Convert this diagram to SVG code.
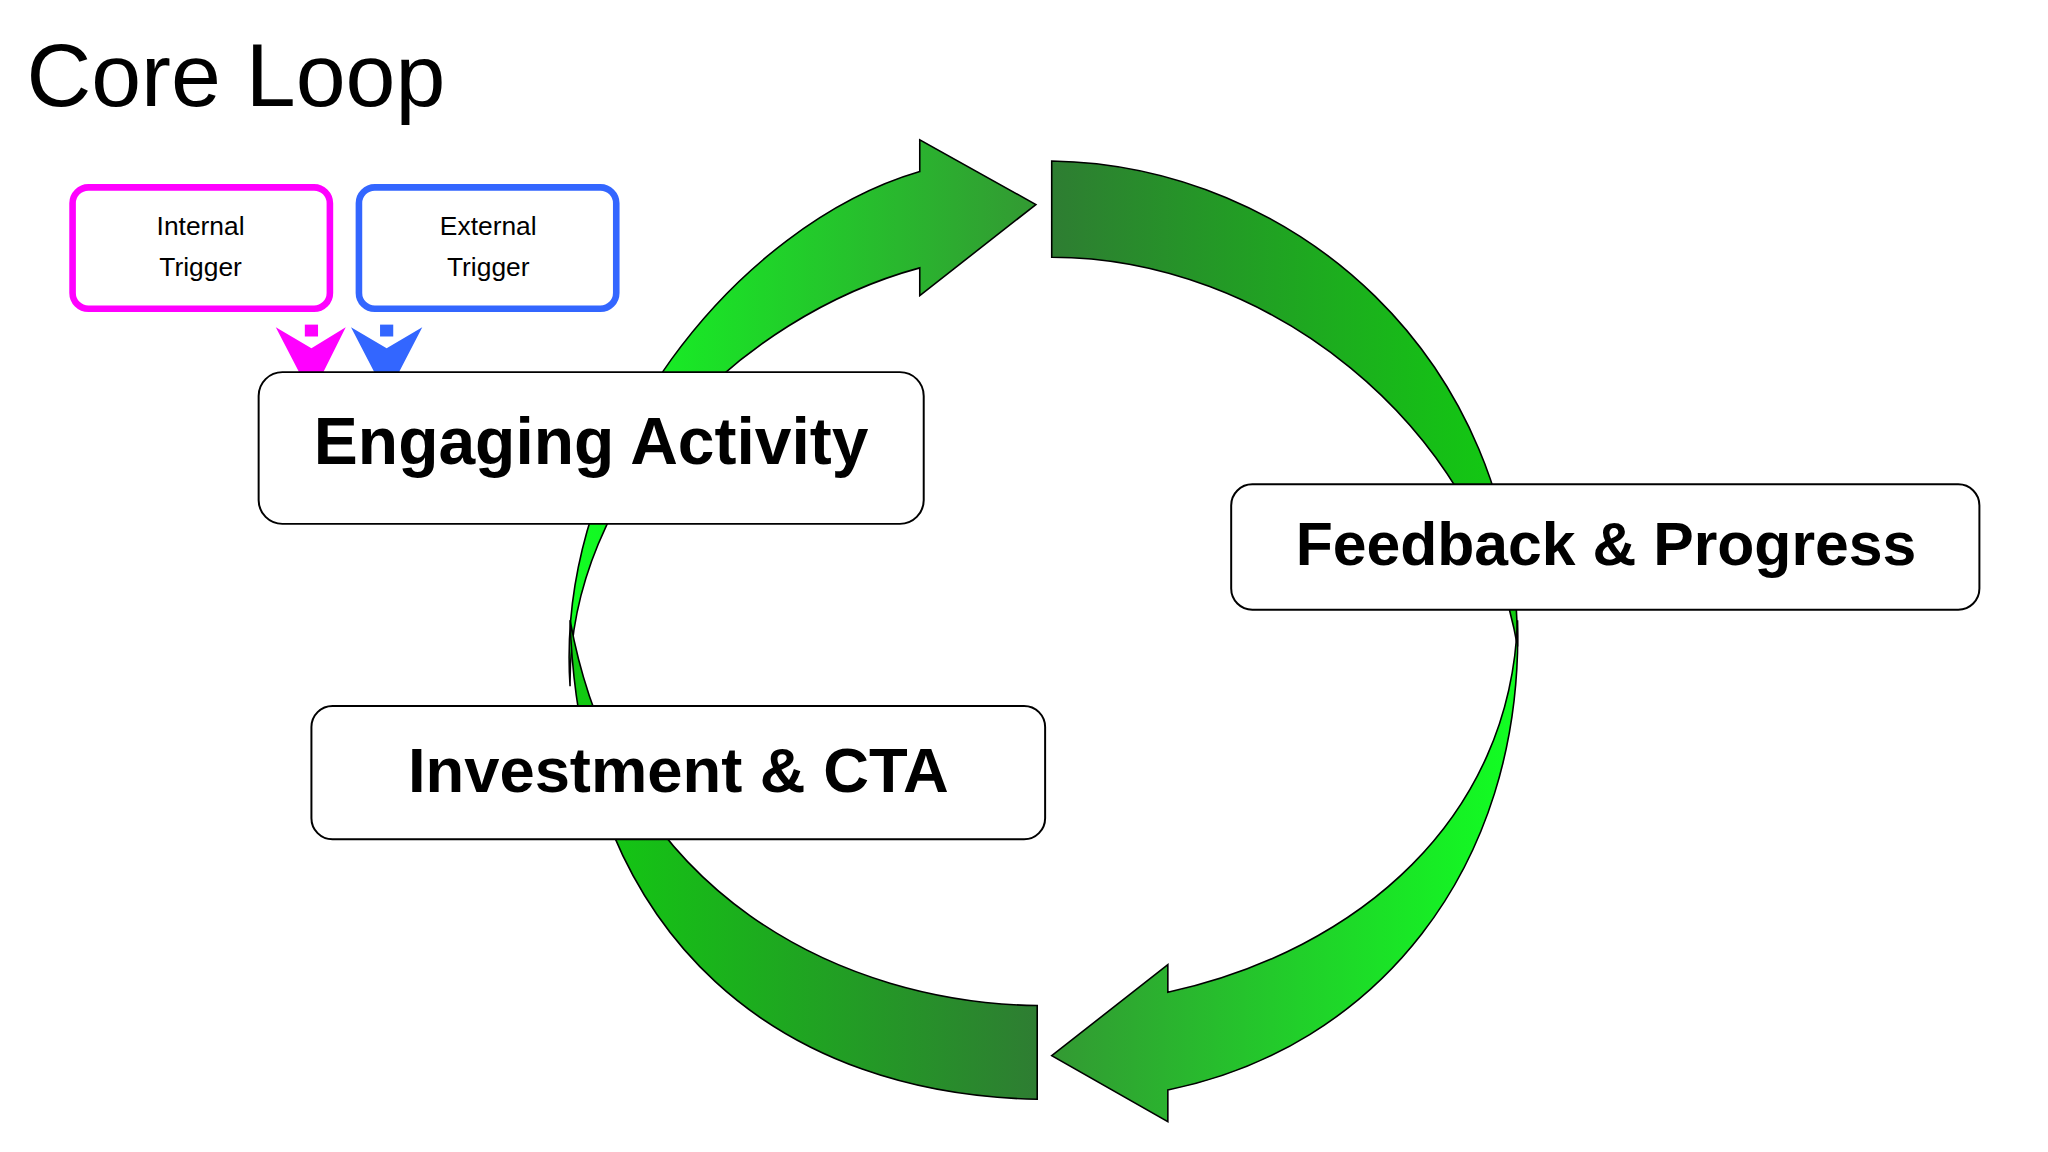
<svg xmlns="http://www.w3.org/2000/svg" width="2048" height="1152" viewBox="0 0 2048 1152">
<defs>
<linearGradient id="gTop" x1="0" y1="0" x2="1" y2="0"><stop offset="0" stop-color="#11ff22"/><stop offset="1" stop-color="#339933"/></linearGradient>
<linearGradient id="gRT" x1="0" y1="0" x2="1" y2="0"><stop offset="0" stop-color="#2e7d32"/><stop offset="1" stop-color="#11cc11"/></linearGradient>
<linearGradient id="gRB" x1="0" y1="0" x2="1" y2="0"><stop offset="0" stop-color="#339933"/><stop offset="1" stop-color="#11ff22"/></linearGradient>
<linearGradient id="gLB" x1="0" y1="0" x2="1" y2="0"><stop offset="0" stop-color="#11cc11"/><stop offset="1" stop-color="#2e7d32"/></linearGradient>
<style>
.arc{stroke:#000;stroke-width:1.2}
.box{fill:#fff;stroke:#000;stroke-width:1.5}
.big{font-family:"Liberation Sans",Arial,sans-serif;font-weight:bold;text-anchor:middle;fill:#000}
.small{font-family:"Liberation Sans",Arial,sans-serif;font-size:20px;text-anchor:middle;fill:#000}
</style>
</defs>
<rect width="2048" height="1152" fill="#fff"/>
<g transform="scale(1.3196)">
<text x="20" y="80" font-family="Liberation Sans,Arial,sans-serif" font-size="68" fill="#000">Core Loop</text>
<g id="connectors">
<path class="arc" fill="url(#gTop)" d="M432 520 C420 340 560 170 697 130 L697 106 L785 155 L697 224 L697 203 C560 240 430 370 432 520 Z"/>
<path class="arc" fill="url(#gRT)" d="M797 122 C980 125 1150 270 1150 490 C1120 320 960 195 797 195 Z"/>
<path class="arc" fill="url(#gRB)" d="M1150 470 C1155 660 1040 795 885 826 L885 850 L797 800 L885 731 L885 752 C1030 720 1145 620 1150 470 Z"/>
<path class="arc" fill="url(#gLB)" d="M786 833 C600 830 440 720 432 470 C470 680 640 760 786 762 Z"/>
<rect x="231" y="246" width="10" height="9" fill="#ff00ff"/>
<path d="M209 248 L236 264 L262 248 L236 300 Z" fill="#ff00ff"/>
<rect x="288" y="246" width="10" height="9" fill="#3366ff"/>
<path d="M266 248 L293 264 L320 248 L293 300 Z" fill="#3366ff"/>
</g>
<g id="internal"><rect x="55" y="142" width="195" height="92" rx="12" fill="#fff" stroke="#ff00ff" stroke-width="5"/><text class="small" x="152" y="178">Internal</text><text class="small" x="152" y="209">Trigger</text></g>
<g id="external"><rect x="272" y="142" width="195" height="92" rx="12" fill="#fff" stroke="#3366ff" stroke-width="5"/><text class="small" x="370" y="178">External</text><text class="small" x="370" y="209">Trigger</text></g>
<g id="engaging"><rect class="box" x="196" y="282" width="504" height="115" rx="18"/><text class="big" x="448" y="352" font-size="50">Engaging Activity</text></g>
<g id="feedback"><rect class="box" x="933" y="367" width="567" height="95" rx="16"/><text class="big" x="1217" y="428" font-size="46">Feedback &amp; Progress</text></g>
<g id="investment"><rect class="box" x="236" y="535" width="556" height="101" rx="16"/><text class="big" x="514" y="600" font-size="48">Investment &amp; CTA</text></g>
</g>
</svg>
